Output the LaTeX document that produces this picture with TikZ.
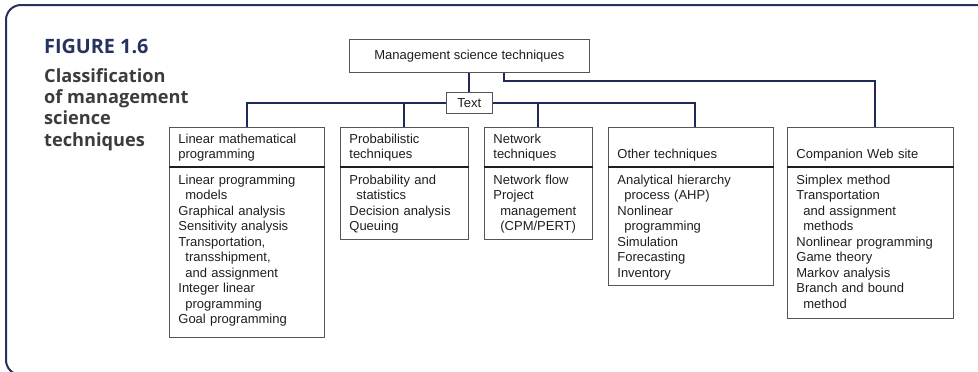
\documentclass[tikz,border=0pt]{standalone}
\usepackage{fontspec}
\setmainfont{Liberation Sans}
\newfontfamily\captionfont{Open Sans}
\usetikzlibrary{positioning}
\definecolor{cFrame}{RGB}{38, 50, 95}
\definecolor{cLink}{RGB}{30, 42, 88}
\definecolor{cBox}{RGB}{85, 85, 85}
\definecolor{cText}{RGB}{30, 30, 30}
\definecolor{cCaption}{RGB}{60, 60, 60}
\tikzset{
    boxText/.style={
        font=\fontsize{13}{15.5}\selectfont,
        text=cText
    },
    headBox/.style={
        boxText, draw=cBox, line width=0.8pt,
        anchor=north west, align=left,
        text width=#1, minimum height=39pt,
        inner xsep=9pt, inner ysep=3pt
    },
    bodyBox/.style={
        boxText, draw=cBox, line width=0.8pt,
        align=left, text width=#1,
        inner xsep=9pt, inner ysep=6pt
    },
    titleBox/.style={
        boxText, draw=cBox, line width=0.8pt,
        anchor=north west, inner sep=0pt
    },
    link/.style={draw=cLink, line width=1.9pt},
    divider/.style={draw=cText, line width=1.5pt},
    frame/.style={draw=cFrame, line width=2pt, rounded corners=15pt}
}
\newcommand{\subLine}[1]{\hspace*{7pt}#1}
\newcommand{\padBottom}[1]{\\[#1]\strut}

\begin{document}
\begin{tikzpicture}[x=1pt, y=-1pt]
    \useasboundingbox (0,0) rectangle (978,372);
    \draw[frame] (990,5) -- (6,5) -- (6,375) -- (990,375);

    % caption
    \node[anchor=base west, inner sep=0pt, text=cFrame,
          font=\captionfont\bfseries\fontsize{19.8}{21}\selectfont] (figNo) at (44,53) {FIGURE 1.6};
    \node[anchor=north west, inner sep=0pt, align=left, text=cCaption,
          font=\captionfont\bfseries\fontsize{18.2}{21.3}\selectfont] (figCap) at (44,68)
        {Classification\\of management\\science\\techniques};

    % root and hub
    \node[titleBox, minimum width=240pt, minimum height=33pt] (mst) at (349,39)
        {Management science techniques};
    \node[titleBox, minimum width=46pt, minimum height=21pt] (txt) at (446,92) {Text};

    % categories
    \node[headBox=137pt] (lmpHead) at (169,127)
        {\strut Linear mathematical\\programming};
    \node[bodyBox=137pt, below=0pt of lmpHead] (lmpBody)
        {\strut Linear programming\\
         \subLine{models}\\
         Graphical analysis\\
         Sensitivity analysis\\
         Transportation,\\
         \subLine{transshipment,}\\
         \subLine{and assignment}\\
         Integer linear\\
         \subLine{programming}\\
         Goal programming\padBottom{-12pt}};

    \node[headBox=110pt] (proHead) at (340,127)
        {\strut Probabilistic\\techniques};
    \node[bodyBox=110pt, below=0pt of proHead] (proBody)
        {\strut Probability and\\
         \subLine{statistics}\\
         Decision analysis\\
         Queuing};

    \node[headBox=90pt] (netHead) at (484,127)
        {\strut Network\\techniques};
    \node[bodyBox=90pt, below=0pt of netHead] (netBody)
        {\strut Network flow\\
         Project\\
         \subLine{management}\\
         \subLine{(CPM/PERT)}};

    \node[headBox=147pt] (othHead) at (608,127)
        {\strut\\Other techniques};
    \node[bodyBox=147pt, below=0pt of othHead] (othBody)
        {\strut Analytical hierarchy\\
         \subLine{process (AHP)}\\
         Nonlinear\\
         \subLine{programming}\\
         Simulation\\
         Forecasting\\
         Inventory};

    \node[headBox=148pt] (cwsHead) at (787,127)
        {\strut\\Companion Web site};
    \node[bodyBox=148pt, below=0pt of cwsHead] (cwsBody)
        {\strut Simplex method\\
         Transportation\\
         \subLine{and assignment}\\
         \subLine{methods}\\
         Nonlinear programming\\
         Game theory\\
         Markov analysis\\
         Branch and bound\\
         \subLine{method}\padBottom{-16pt}};

    \foreach \n in {lmp, pro, net, oth, cws}
        \draw[divider] (\n Head.south west) -- (\n Head.south east);

    % connectors
    \draw[link] (mst.south) -- (txt.north);
    \draw[link] (txt.west) -| (lmpHead.north);
    \draw[link] (txt.east) -| ([xshift=4pt]othHead.north);
    \draw[link] (proHead.north) -- (proHead.north |- txt.west);
    \draw[link] (netHead.north) -- (netHead.north |- txt.east);
    \draw[link] ([xshift=35pt]mst.south) -- ++(0,8) -| ([xshift=5pt]cwsHead.north);
\end{tikzpicture}
\end{document}
